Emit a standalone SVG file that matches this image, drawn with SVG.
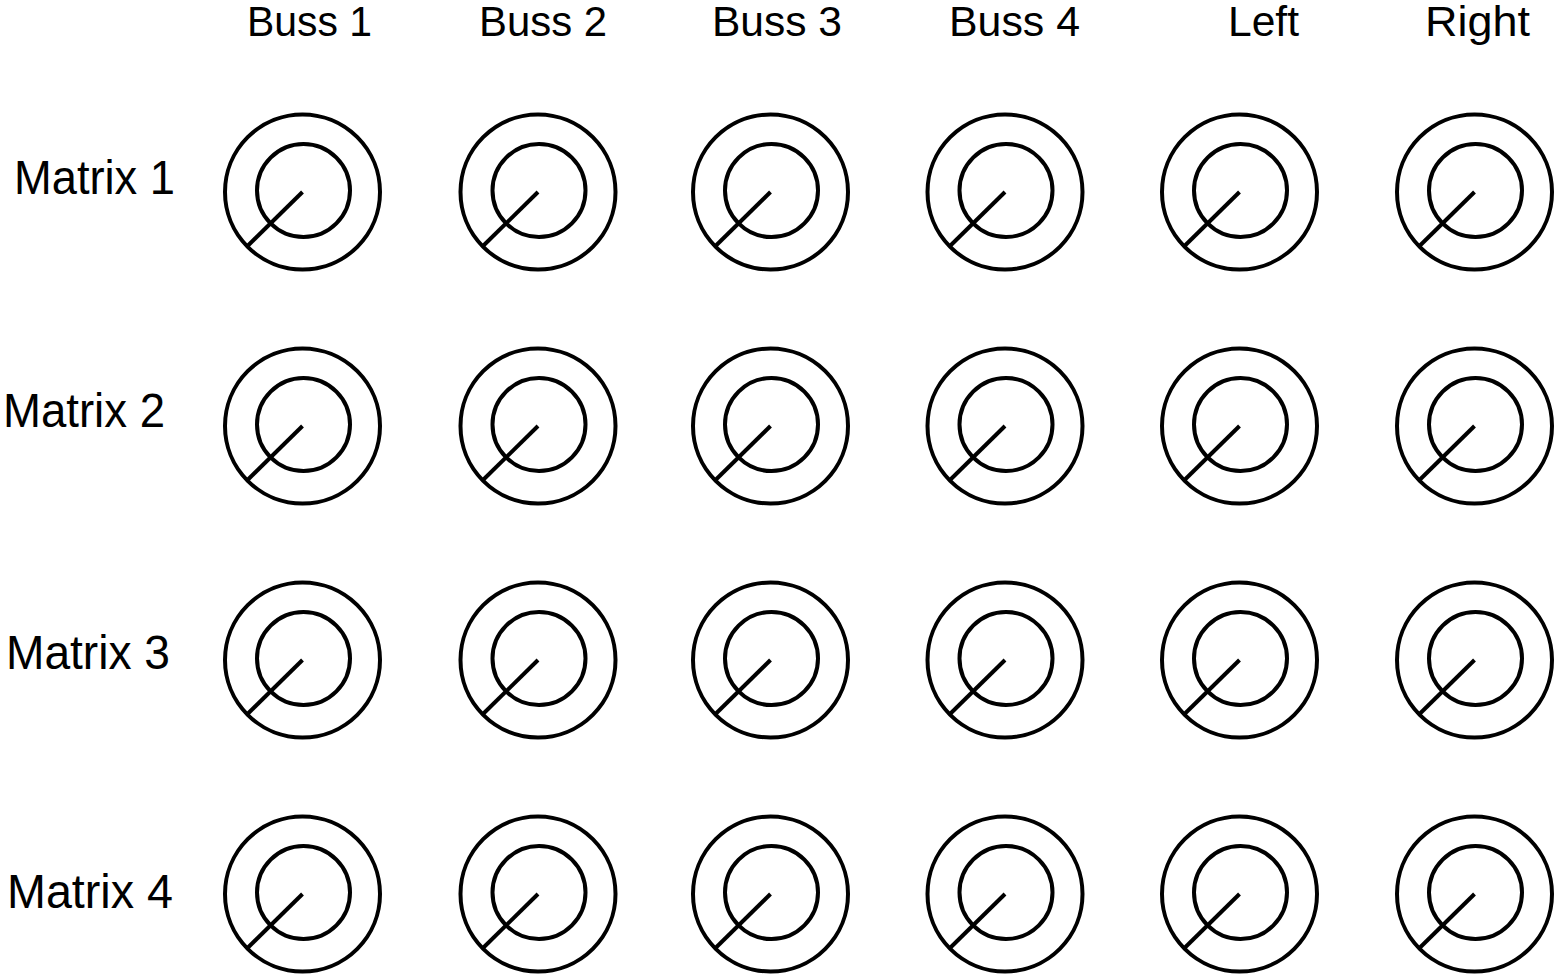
<svg xmlns="http://www.w3.org/2000/svg" width="1555" height="975" viewBox="0 0 1555 975">
<defs>
<style>
.lbl{font-family:"Liberation Sans",Arial,sans-serif;fill:#000}
.top{font-size:43px}
.side{font-size:48px}
.knob circle{fill:none;stroke:#000;stroke-width:4}
.knob line{stroke:#000;stroke-width:4}
</style>
<g id="knobShape" class="knob">
<circle cx="0" cy="0" r="77.5"/>
<circle cx="1" cy="-1.5" r="46.5"/>
<line x1="0" y1="0" x2="-55" y2="54"/>
</g>
</defs>
<rect width="1555" height="975" fill="#fff"/>
<g id="column-labels">
<text class="lbl top" x="247" y="36" textLength="125" lengthAdjust="spacingAndGlyphs">Buss 1</text>
<text class="lbl top" x="479" y="36" textLength="128" lengthAdjust="spacingAndGlyphs">Buss 2</text>
<text class="lbl top" x="712" y="36" textLength="130" lengthAdjust="spacingAndGlyphs">Buss 3</text>
<text class="lbl top" x="949" y="36" textLength="131" lengthAdjust="spacingAndGlyphs">Buss 4</text>
<text class="lbl top" x="1228" y="36" textLength="71" lengthAdjust="spacingAndGlyphs">Left</text>
<text class="lbl top" x="1425" y="36" textLength="105" lengthAdjust="spacingAndGlyphs">Right</text>
</g>
<g id="row-labels">
<text class="lbl side" x="14" y="194" textLength="161" lengthAdjust="spacingAndGlyphs">Matrix 1</text>
<text class="lbl side" x="3" y="427" textLength="162" lengthAdjust="spacingAndGlyphs">Matrix 2</text>
<text class="lbl side" x="6" y="669" textLength="164" lengthAdjust="spacingAndGlyphs">Matrix 3</text>
<text class="lbl side" x="7" y="908" textLength="166" lengthAdjust="spacingAndGlyphs">Matrix 4</text>
</g>
<g id="knobs">
<use id="k-1-1" href="#knobShape" x="302.5" y="192"/>
<use id="k-1-2" href="#knobShape" x="538" y="192"/>
<use id="k-1-3" href="#knobShape" x="770.5" y="192"/>
<use id="k-1-4" href="#knobShape" x="1005" y="192"/>
<use id="k-1-5" href="#knobShape" x="1239.5" y="192"/>
<use id="k-1-6" href="#knobShape" x="1474.5" y="192"/>
<use id="k-2-1" href="#knobShape" x="302.5" y="426"/>
<use id="k-2-2" href="#knobShape" x="538" y="426"/>
<use id="k-2-3" href="#knobShape" x="770.5" y="426"/>
<use id="k-2-4" href="#knobShape" x="1005" y="426"/>
<use id="k-2-5" href="#knobShape" x="1239.5" y="426"/>
<use id="k-2-6" href="#knobShape" x="1474.5" y="426"/>
<use id="k-3-1" href="#knobShape" x="302.5" y="660"/>
<use id="k-3-2" href="#knobShape" x="538" y="660"/>
<use id="k-3-3" href="#knobShape" x="770.5" y="660"/>
<use id="k-3-4" href="#knobShape" x="1005" y="660"/>
<use id="k-3-5" href="#knobShape" x="1239.5" y="660"/>
<use id="k-3-6" href="#knobShape" x="1474.5" y="660"/>
<use id="k-4-1" href="#knobShape" x="302.5" y="894"/>
<use id="k-4-2" href="#knobShape" x="538" y="894"/>
<use id="k-4-3" href="#knobShape" x="770.5" y="894"/>
<use id="k-4-4" href="#knobShape" x="1005" y="894"/>
<use id="k-4-5" href="#knobShape" x="1239.5" y="894"/>
<use id="k-4-6" href="#knobShape" x="1474.5" y="894"/>
</g>
<g id="connectors"/>
</svg>
